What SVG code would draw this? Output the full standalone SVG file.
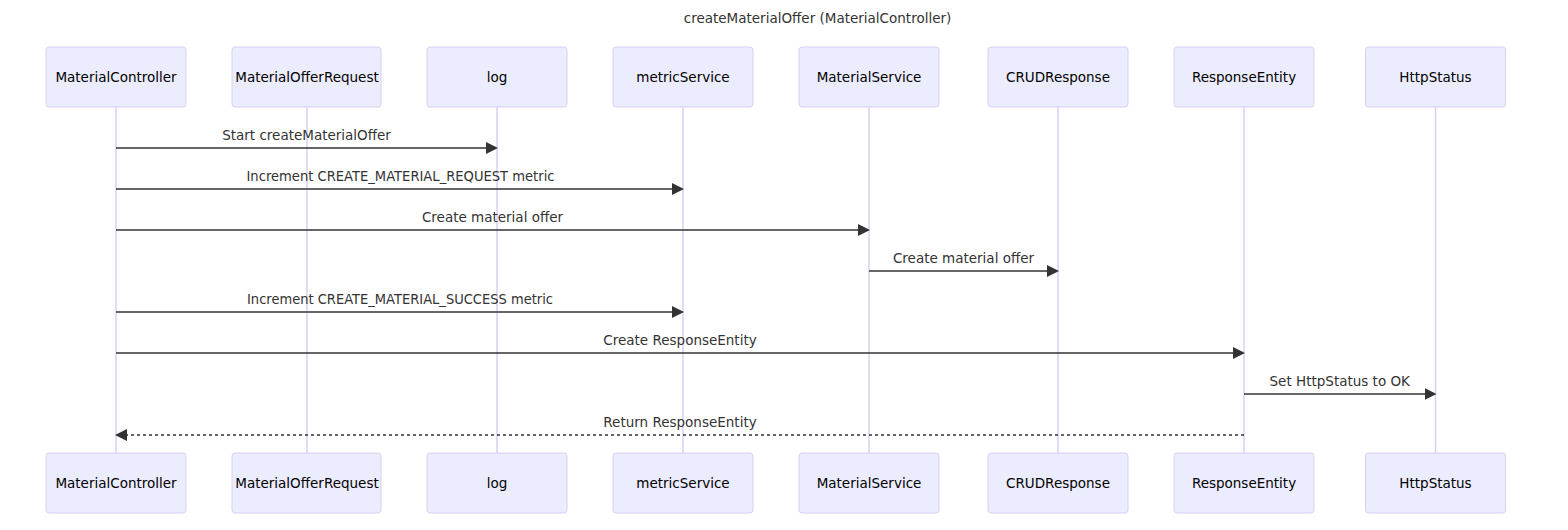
<svg xmlns="http://www.w3.org/2000/svg" width="1568" height="530" viewBox="0 0 1568 530">
<style>
text{font-family:"DejaVu Sans","Liberation Sans",sans-serif;font-size:13.5px;}
.box{fill:#ECECFF;stroke:#DACEF3;stroke-width:1;}
.life{stroke:#DACEF3;stroke-width:1.5;}
.actor{fill:#000;text-anchor:middle;dominant-baseline:central;}
.msg{fill:#333;text-anchor:middle;}
.line{stroke:#333;stroke-width:1.5;fill:none;}
.dash{stroke-dasharray:3,3;}
.title{fill:#333;text-anchor:middle;}
</style>
<defs>
<marker id="arrow" viewBox="0 0 10 10" refX="7.9" refY="5" markerWidth="12" markerHeight="12" markerUnits="userSpaceOnUse" orient="auto">
<path d="M0,0 L10,5 L0,10 z" fill="#333"/>
</marker>
</defs>
<rect width="1568" height="530" fill="#fff"/>
<text class="title" x="817.5" y="23">createMaterialOffer (MaterialController)</text>
<g id="lifelines">
<line class="life" x1="116" y1="107" x2="116" y2="453"/>
<line class="life" x1="307" y1="107" x2="307" y2="453"/>
<line class="life" x1="497" y1="107" x2="497" y2="453"/>
<line class="life" x1="683" y1="107" x2="683" y2="453"/>
<line class="life" x1="869" y1="107" x2="869" y2="453"/>
<line class="life" x1="1058" y1="107" x2="1058" y2="453"/>
<line class="life" x1="1244" y1="107" x2="1244" y2="453"/>
<line class="life" x1="1435.5" y1="107" x2="1435.5" y2="453"/>
</g>
<g id="MaterialController">
<rect class="box" x="46" y="47" width="140" height="60" rx="3"/>
<text class="actor" x="116" y="77">MaterialController</text>
<rect class="box" x="46" y="453" width="140" height="60" rx="3"/>
<text class="actor" x="116" y="483">MaterialController</text>
</g>
<g id="MaterialOfferRequest">
<rect class="box" x="232" y="47" width="149" height="60" rx="3"/>
<text class="actor" x="307" y="77">MaterialOfferRequest</text>
<rect class="box" x="232" y="453" width="149" height="60" rx="3"/>
<text class="actor" x="307" y="483">MaterialOfferRequest</text>
</g>
<g id="log">
<rect class="box" x="427" y="47" width="140" height="60" rx="3"/>
<text class="actor" x="497" y="77">log</text>
<rect class="box" x="427" y="453" width="140" height="60" rx="3"/>
<text class="actor" x="497" y="483">log</text>
</g>
<g id="metricService">
<rect class="box" x="613" y="47" width="140" height="60" rx="3"/>
<text class="actor" x="683" y="77">metricService</text>
<rect class="box" x="613" y="453" width="140" height="60" rx="3"/>
<text class="actor" x="683" y="483">metricService</text>
</g>
<g id="MaterialService">
<rect class="box" x="799" y="47" width="140" height="60" rx="3"/>
<text class="actor" x="869" y="77">MaterialService</text>
<rect class="box" x="799" y="453" width="140" height="60" rx="3"/>
<text class="actor" x="869" y="483">MaterialService</text>
</g>
<g id="CRUDResponse">
<rect class="box" x="988" y="47" width="140" height="60" rx="3"/>
<text class="actor" x="1058" y="77">CRUDResponse</text>
<rect class="box" x="988" y="453" width="140" height="60" rx="3"/>
<text class="actor" x="1058" y="483">CRUDResponse</text>
</g>
<g id="ResponseEntity">
<rect class="box" x="1174" y="47" width="140" height="60" rx="3"/>
<text class="actor" x="1244" y="77">ResponseEntity</text>
<rect class="box" x="1174" y="453" width="140" height="60" rx="3"/>
<text class="actor" x="1244" y="483">ResponseEntity</text>
</g>
<g id="HttpStatus">
<rect class="box" x="1365.5" y="47" width="140" height="60" rx="3"/>
<text class="actor" x="1435.5" y="77">HttpStatus</text>
<rect class="box" x="1365.5" y="453" width="140" height="60" rx="3"/>
<text class="actor" x="1435.5" y="483">HttpStatus</text>
</g>
<g id="connectors">
<text class="msg" x="306.5" y="140">Start createMaterialOffer</text>
<line class="line" x1="116" y1="148" x2="495.5" y2="148" marker-end="url(#arrow)"/>
<text class="msg" x="400.5" y="181" textLength="308" lengthAdjust="spacingAndGlyphs">Increment CREATE_MATERIAL_REQUEST metric</text>
<line class="line" x1="116" y1="189" x2="681.5" y2="189" marker-end="url(#arrow)"/>
<text class="msg" x="492.5" y="222">Create material offer</text>
<line class="line" x1="116" y1="230" x2="867.5" y2="230" marker-end="url(#arrow)"/>
<text class="msg" x="963.5" y="263">Create material offer</text>
<line class="line" x1="869" y1="271" x2="1056.5" y2="271" marker-end="url(#arrow)"/>
<text class="msg" x="400" y="304" textLength="306" lengthAdjust="spacingAndGlyphs">Increment CREATE_MATERIAL_SUCCESS metric</text>
<line class="line" x1="116" y1="312" x2="681.5" y2="312" marker-end="url(#arrow)"/>
<text class="msg" x="680" y="345">Create ResponseEntity</text>
<line class="line" x1="116" y1="353" x2="1242.5" y2="353" marker-end="url(#arrow)"/>
<text class="msg" x="1339.75" y="386">Set HttpStatus to OK</text>
<line class="line" x1="1244" y1="394" x2="1434" y2="394" marker-end="url(#arrow)"/>
<text class="msg" x="680" y="427">Return ResponseEntity</text>
<line class="line dash" x1="1244" y1="435" x2="117.5" y2="435" marker-end="url(#arrow)"/>
</g>
</svg>
